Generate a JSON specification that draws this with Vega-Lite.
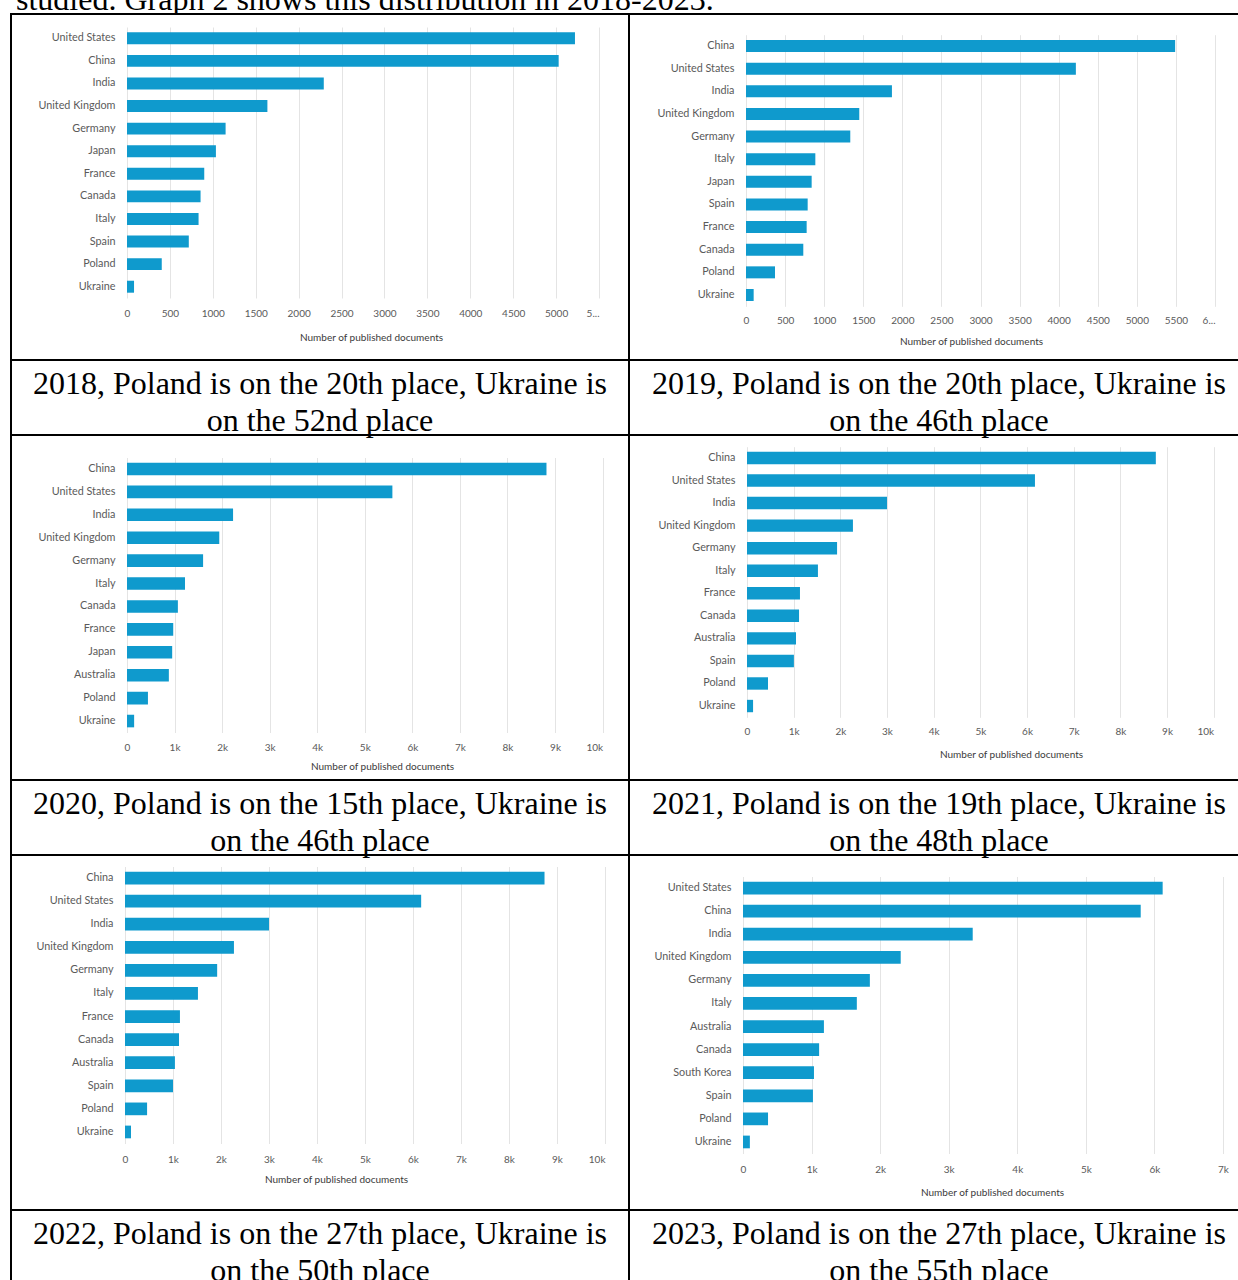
{
  "$schema": "https://vega.github.io/schema/vega-lite/v6.json",
  "background": "white",
  "padding": {"left": 10, "top": 0, "right": -10, "bottom": -5},
  "columns": 2,
  "spacing": 0,
  "align": "each",
  "bounds": "flush",
  "config": {
    "view": {"stroke": "#000000", "strokeWidth": 2},
    "axis": {"labelFont": "Lato", "titleFont": "Lato", "labelColor": "#5a5a5a", "titleColor": "#3a3a3a", "titleFontWeight": "normal", "labelFontSize": 10, "titleFontSize": 10},
    "bar": {"color": "#0f9acd"},
    "text": {"font": "Liberation Serif", "fontSize": 32, "color": "#000000"}
  },
  "datasets": {
    "docs": [
      {"year": 2018, "country": "United States", "docs": 5220},
      {"year": 2018, "country": "China", "docs": 5030},
      {"year": 2018, "country": "India", "docs": 2293},
      {"year": 2018, "country": "United Kingdom", "docs": 1636},
      {"year": 2018, "country": "Germany", "docs": 1149},
      {"year": 2018, "country": "Japan", "docs": 1036},
      {"year": 2018, "country": "France", "docs": 900},
      {"year": 2018, "country": "Canada", "docs": 857},
      {"year": 2018, "country": "Italy", "docs": 834},
      {"year": 2018, "country": "Spain", "docs": 720},
      {"year": 2018, "country": "Poland", "docs": 405},
      {"year": 2018, "country": "Ukraine", "docs": 82},
      {"year": 2019, "country": "China", "docs": 5490},
      {"year": 2019, "country": "United States", "docs": 4220},
      {"year": 2019, "country": "India", "docs": 1867},
      {"year": 2019, "country": "United Kingdom", "docs": 1449},
      {"year": 2019, "country": "Germany", "docs": 1334},
      {"year": 2019, "country": "Italy", "docs": 887},
      {"year": 2019, "country": "Japan", "docs": 840},
      {"year": 2019, "country": "Spain", "docs": 789},
      {"year": 2019, "country": "France", "docs": 776},
      {"year": 2019, "country": "Canada", "docs": 733},
      {"year": 2019, "country": "Poland", "docs": 371},
      {"year": 2019, "country": "Ukraine", "docs": 98},
      {"year": 2020, "country": "China", "docs": 8820},
      {"year": 2020, "country": "United States", "docs": 5580},
      {"year": 2020, "country": "India", "docs": 2230},
      {"year": 2020, "country": "United Kingdom", "docs": 1940},
      {"year": 2020, "country": "Germany", "docs": 1600},
      {"year": 2020, "country": "Italy", "docs": 1220},
      {"year": 2020, "country": "Canada", "docs": 1070},
      {"year": 2020, "country": "France", "docs": 972},
      {"year": 2020, "country": "Japan", "docs": 950},
      {"year": 2020, "country": "Australia", "docs": 880},
      {"year": 2020, "country": "Poland", "docs": 440},
      {"year": 2020, "country": "Ukraine", "docs": 150},
      {"year": 2021, "country": "China", "docs": 8760},
      {"year": 2021, "country": "United States", "docs": 6170},
      {"year": 2021, "country": "India", "docs": 3000},
      {"year": 2021, "country": "United Kingdom", "docs": 2270},
      {"year": 2021, "country": "Germany", "docs": 1930},
      {"year": 2021, "country": "Italy", "docs": 1520},
      {"year": 2021, "country": "France", "docs": 1135},
      {"year": 2021, "country": "Canada", "docs": 1115},
      {"year": 2021, "country": "Australia", "docs": 1050},
      {"year": 2021, "country": "Spain", "docs": 1005},
      {"year": 2021, "country": "Poland", "docs": 450},
      {"year": 2021, "country": "Ukraine", "docs": 130},
      {"year": 2022, "country": "China", "docs": 8740},
      {"year": 2022, "country": "United States", "docs": 6170},
      {"year": 2022, "country": "India", "docs": 3000},
      {"year": 2022, "country": "United Kingdom", "docs": 2270},
      {"year": 2022, "country": "Germany", "docs": 1920},
      {"year": 2022, "country": "Italy", "docs": 1520},
      {"year": 2022, "country": "France", "docs": 1145},
      {"year": 2022, "country": "Canada", "docs": 1125},
      {"year": 2022, "country": "Australia", "docs": 1040},
      {"year": 2022, "country": "Spain", "docs": 1000},
      {"year": 2022, "country": "Poland", "docs": 460},
      {"year": 2022, "country": "Ukraine", "docs": 125},
      {"year": 2023, "country": "United States", "docs": 6120},
      {"year": 2023, "country": "China", "docs": 5800},
      {"year": 2023, "country": "India", "docs": 3350},
      {"year": 2023, "country": "United Kingdom", "docs": 2300},
      {"year": 2023, "country": "Germany", "docs": 1850},
      {"year": 2023, "country": "Italy", "docs": 1660},
      {"year": 2023, "country": "Australia", "docs": 1180},
      {"year": 2023, "country": "Canada", "docs": 1110},
      {"year": 2023, "country": "South Korea", "docs": 1035},
      {"year": 2023, "country": "Spain", "docs": 1020},
      {"year": 2023, "country": "Poland", "docs": 365},
      {"year": 2023, "country": "Ukraine", "docs": 100}
    ],
    "captions": [
      {"year": 2018, "caption": "2018, Poland is on the 20th place, Ukraine is\non the 52nd place"},
      {"year": 2019, "caption": "2019, Poland is on the 20th place, Ukraine is\non the 46th place"},
      {"year": 2020, "caption": "2020, Poland is on the 15th place, Ukraine is\non the 46th place"},
      {"year": 2021, "caption": "2021, Poland is on the 19th place, Ukraine is\non the 48th place"},
      {"year": 2022, "caption": "2022, Poland is on the 27th place, Ukraine is\non the 50th place"},
      {"year": 2023, "caption": "2023, Poland is on the 27th place, Ukraine is\non the 55th place"}
    ],
    "header": [
      {"text": "studied. Graph 2 shows this distribution in 2018-2023."}
    ]
  },
  "concat": [
    {
      "width": 618, "height": 14,
      "view": {"stroke": null},
      "data": {"name": "header"},
      "mark": {"type": "text", "clip": true, "align": "left", "baseline": "alphabetic", "dx": 5, "dy": -4},
      "encoding": {
        "text": {"field": "text"},
        "x": {"datum": 0, "type": "quantitative", "scale": {"domain": [0, 1]}, "axis": null},
        "y": {"datum": 0, "type": "quantitative", "scale": {"domain": [0, 1]}, "axis": null}
      }
    },
    {
      "width": 620, "height": 14,
      "view": {"stroke": null},
      "data": {"name": "header"},
      "mark": {"type": "text", "clip": true, "align": "left", "baseline": "alphabetic", "dx": -613, "dy": -4},
      "encoding": {
        "text": {"field": "text"},
        "x": {"datum": 0, "type": "quantitative", "scale": {"domain": [0, 1]}, "axis": null},
        "y": {"datum": 0, "type": "quantitative", "scale": {"domain": [0, 1]}, "axis": null}
      }
    },
    {
      "width": 618, "height": 346,
      "data": {"name": "docs"},
      "transform": [{"filter": "datum.year == 2018"}],
      "mark": {"type": "bar"},
      "encoding": {
        "y": {"field": "country", "type": "nominal", "sort": "-x",
          "scale": {"range": [13, 284], "paddingInner": 0.47, "paddingOuter": 0.235},
          "axis": {"title": null, "orient": "left", "offset": -116, "domain": false, "ticks": false, "tickSize": 0, "labelPadding": 12, "labelFontSize": 10.8}},
        "x": {"field": "docs", "type": "quantitative",
          "scale": {"domain": [0, 5500], "range": [116, 588], "nice": false, "zero": true},
          "axis": {"orient": "top", "offset": -284, "values": [0, 500, 1000, 1500, 2000, 2500, 3000, 3500, 4000, 4500, 5000, 5500],
            "format": "d", "labelExpr": "datum.value == 5500 ? '5...' : datum.label", "labelFlush": false, "labelOverlap": false,
            "labelAlign": {"condition": {"test": "datum.value == 5500", "value": "right"}, "value": "center"},
            "labelBaseline": "top", "labelPadding": -10, "domain": false, "ticks": false, "tickSize": 0,
            "grid": true, "gridColor": "#e4e4e4",
            "title": "Number of published documents", "titleX": 360, "titleY": 39, "titleBaseline": "middle", "titleAlign": "center"}}
      }
    },
    {
      "width": 620, "height": 346,
      "data": {"name": "docs"},
      "transform": [{"filter": "datum.year == 2019"}],
      "mark": {"type": "bar"},
      "encoding": {
        "y": {"field": "country", "type": "nominal", "sort": "-x",
          "scale": {"range": [20.7, 292.3], "paddingInner": 0.47, "paddingOuter": 0.235},
          "axis": {"title": null, "orient": "left", "offset": -117, "domain": false, "ticks": false, "tickSize": 0, "labelPadding": 12, "labelFontSize": 10.8}},
        "x": {"field": "docs", "type": "quantitative",
          "scale": {"domain": [0, 6000], "range": [117, 586], "nice": false, "zero": true},
          "axis": {"orient": "top", "offset": -292.3, "values": [0, 500, 1000, 1500, 2000, 2500, 3000, 3500, 4000, 4500, 5000, 5500, 6000],
            "format": "d", "labelExpr": "datum.value == 6000 ? '6...' : datum.label", "labelFlush": false, "labelOverlap": false,
            "labelAlign": {"condition": {"test": "datum.value == 6000", "value": "right"}, "value": "center"},
            "labelBaseline": "top", "labelPadding": -9, "domain": false, "ticks": false, "tickSize": 0,
            "grid": true, "gridColor": "#e4e4e4",
            "title": "Number of published documents", "titleX": 342, "titleY": 35, "titleBaseline": "middle", "titleAlign": "center"}}
      }
    },
    {
      "width": 618, "height": 75,
      "data": {"name": "captions"},
      "transform": [{"filter": "datum.year == 2018"}],
      "mark": {"type": "text", "lineBreak": "\n", "lineHeight": 37, "align": "center", "baseline": "middle", "dy": -14},
      "encoding": {
        "text": {"field": "caption"},
        "x": {"datum": 0.5, "type": "quantitative", "scale": {"domain": [0, 1]}, "axis": null},
        "y": {"datum": 0.5, "type": "quantitative", "scale": {"domain": [0, 1]}, "axis": null}
      }
    },
    {
      "width": 620, "height": 75,
      "data": {"name": "captions"},
      "transform": [{"filter": "datum.year == 2019"}],
      "mark": {"type": "text", "lineBreak": "\n", "lineHeight": 37, "align": "center", "baseline": "middle", "dy": -14},
      "encoding": {
        "text": {"field": "caption"},
        "x": {"datum": 0.5, "type": "quantitative", "scale": {"domain": [0, 1]}, "axis": null},
        "y": {"datum": 0.5, "type": "quantitative", "scale": {"domain": [0, 1]}, "axis": null}
      }
    },
    {
      "width": 618, "height": 345,
      "data": {"name": "docs"},
      "transform": [{"filter": "datum.year == 2020"}],
      "mark": {"type": "bar"},
      "encoding": {
        "y": {"field": "country", "type": "nominal", "sort": "-x",
          "scale": {"range": [22.5, 297.5], "paddingInner": 0.45, "paddingOuter": 0.225},
          "axis": {"title": null, "orient": "left", "offset": -116, "domain": false, "ticks": false, "tickSize": 0, "labelPadding": 12, "labelFontSize": 10.8}},
        "x": {"field": "docs", "type": "quantitative",
          "scale": {"domain": [0, 10000], "range": [116, 591.6], "nice": false, "zero": true},
          "axis": {"orient": "top", "offset": -297.5, "values": [0, 1000, 2000, 3000, 4000, 5000, 6000, 7000, 8000, 9000, 10000],
            "labelFlush": false, "labelOverlap": false,
            "labelExpr": "datum.value == 0 ? '0' : (datum.value / 1000) + 'k'",
            "labelAlign": {"condition": {"test": "datum.value == 10000", "value": "right"}, "value": "center"},
            "labelBaseline": "top", "labelPadding": -9.5, "domain": false, "ticks": false, "tickSize": 0,
            "grid": true, "gridColor": "#e4e4e4",
            "title": "Number of published documents", "titleX": 371, "titleY": 33.5, "titleBaseline": "middle", "titleAlign": "center"}}
      }
    },
    {
      "width": 620, "height": 345,
      "data": {"name": "docs"},
      "transform": [{"filter": "datum.year == 2021"}],
      "mark": {"type": "bar"},
      "encoding": {
        "y": {"field": "country", "type": "nominal", "sort": "-x",
          "scale": {"range": [11.7, 282.3], "paddingInner": 0.45, "paddingOuter": 0.225},
          "axis": {"title": null, "orient": "left", "offset": -118, "domain": false, "ticks": false, "tickSize": 0, "labelPadding": 12, "labelFontSize": 10.8}},
        "x": {"field": "docs", "type": "quantitative",
          "scale": {"domain": [0, 10000], "range": [118, 584.7], "nice": false, "zero": true},
          "axis": {"orient": "top", "offset": -282.3, "values": [0, 1000, 2000, 3000, 4000, 5000, 6000, 7000, 8000, 9000, 10000],
            "labelFlush": false, "labelOverlap": false,
            "labelExpr": "datum.value == 0 ? '0' : (datum.value / 1000) + 'k'",
            "labelAlign": {"condition": {"test": "datum.value == 10000", "value": "right"}, "value": "center"},
            "labelBaseline": "top", "labelPadding": -8.7, "domain": false, "ticks": false, "tickSize": 0,
            "grid": true, "gridColor": "#e4e4e4",
            "title": "Number of published documents", "titleX": 382, "titleY": 36.7, "titleBaseline": "middle", "titleAlign": "center"}}
      }
    },
    {
      "width": 618, "height": 75,
      "data": {"name": "captions"},
      "transform": [{"filter": "datum.year == 2020"}],
      "mark": {"type": "text", "lineBreak": "\n", "lineHeight": 37, "align": "center", "baseline": "middle", "dy": -14},
      "encoding": {
        "text": {"field": "caption"},
        "x": {"datum": 0.5, "type": "quantitative", "scale": {"domain": [0, 1]}, "axis": null},
        "y": {"datum": 0.5, "type": "quantitative", "scale": {"domain": [0, 1]}, "axis": null}
      }
    },
    {
      "width": 620, "height": 75,
      "data": {"name": "captions"},
      "transform": [{"filter": "datum.year == 2021"}],
      "mark": {"type": "text", "lineBreak": "\n", "lineHeight": 37, "align": "center", "baseline": "middle", "dy": -14},
      "encoding": {
        "text": {"field": "caption"},
        "x": {"datum": 0.5, "type": "quantitative", "scale": {"domain": [0, 1]}, "axis": null},
        "y": {"datum": 0.5, "type": "quantitative", "scale": {"domain": [0, 1]}, "axis": null}
      }
    },
    {
      "width": 618, "height": 355,
      "data": {"name": "docs"},
      "transform": [{"filter": "datum.year == 2022"}],
      "mark": {"type": "bar"},
      "encoding": {
        "y": {"field": "country", "type": "nominal", "sort": "-x",
          "scale": {"range": [11.5, 288.5], "paddingInner": 0.45, "paddingOuter": 0.225},
          "axis": {"title": null, "orient": "left", "offset": -114, "domain": false, "ticks": false, "tickSize": 0, "labelPadding": 12, "labelFontSize": 10.8}},
        "x": {"field": "docs", "type": "quantitative",
          "scale": {"domain": [0, 10000], "range": [114, 594], "nice": false, "zero": true},
          "axis": {"orient": "top", "offset": -288.5, "values": [0, 1000, 2000, 3000, 4000, 5000, 6000, 7000, 8000, 9000, 10000],
            "labelFlush": false, "labelOverlap": false,
            "labelExpr": "datum.value == 0 ? '0' : (datum.value / 1000) + 'k'",
            "labelAlign": {"condition": {"test": "datum.value == 10000", "value": "right"}, "value": "center"},
            "labelBaseline": "top", "labelPadding": -10.5, "domain": false, "ticks": false, "tickSize": 0,
            "grid": true, "gridColor": "#e4e4e4",
            "title": "Number of published documents", "titleX": 325, "titleY": 35.5, "titleBaseline": "middle", "titleAlign": "center"}}
      }
    },
    {
      "width": 620, "height": 355,
      "data": {"name": "docs"},
      "transform": [{"filter": "datum.year == 2023"}],
      "mark": {"type": "bar"},
      "encoding": {
        "y": {"field": "country", "type": "nominal", "sort": "-x",
          "scale": {"range": [21.5, 298.5], "paddingInner": 0.45, "paddingOuter": 0.225},
          "axis": {"title": null, "orient": "left", "offset": -114, "domain": false, "ticks": false, "tickSize": 0, "labelPadding": 12, "labelFontSize": 10.8}},
        "x": {"field": "docs", "type": "quantitative",
          "scale": {"domain": [0, 7000], "range": [114, 594], "nice": false, "zero": true},
          "axis": {"orient": "top", "offset": -298.5, "values": [0, 1000, 2000, 3000, 4000, 5000, 6000, 7000],
            "labelFlush": false, "labelOverlap": false,
            "labelExpr": "datum.value == 0 ? '0' : (datum.value / 1000) + 'k'",
            "labelAlign": "center",
            "labelBaseline": "top", "labelPadding": -10.5, "domain": false, "ticks": false, "tickSize": 0,
            "grid": true, "gridColor": "#e4e4e4",
            "title": "Number of published documents", "titleX": 363, "titleY": 38.5, "titleBaseline": "middle", "titleAlign": "center"}}
      }
    },
    {
      "width": 618, "height": 75,
      "data": {"name": "captions"},
      "transform": [{"filter": "datum.year == 2022"}],
      "mark": {"type": "text", "lineBreak": "\n", "lineHeight": 37, "align": "center", "baseline": "middle", "dy": -14},
      "encoding": {
        "text": {"field": "caption"},
        "x": {"datum": 0.5, "type": "quantitative", "scale": {"domain": [0, 1]}, "axis": null},
        "y": {"datum": 0.5, "type": "quantitative", "scale": {"domain": [0, 1]}, "axis": null}
      }
    },
    {
      "width": 620, "height": 75,
      "data": {"name": "captions"},
      "transform": [{"filter": "datum.year == 2023"}],
      "mark": {"type": "text", "lineBreak": "\n", "lineHeight": 37, "align": "center", "baseline": "middle", "dy": -14},
      "encoding": {
        "text": {"field": "caption"},
        "x": {"datum": 0.5, "type": "quantitative", "scale": {"domain": [0, 1]}, "axis": null},
        "y": {"datum": 0.5, "type": "quantitative", "scale": {"domain": [0, 1]}, "axis": null}
      }
    }
  ]
}
